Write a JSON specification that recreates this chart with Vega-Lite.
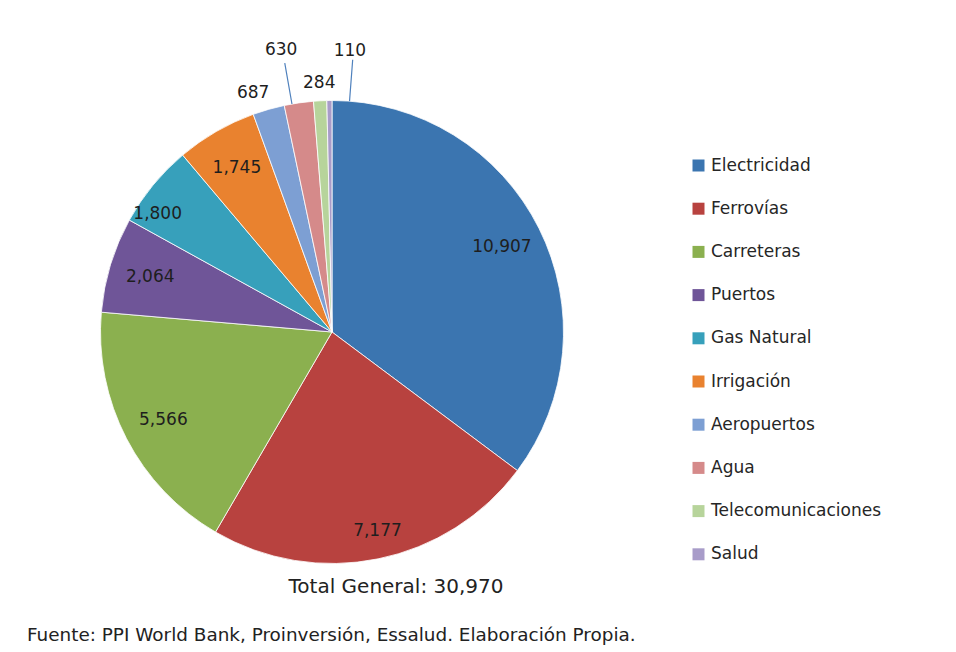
{
  "$schema": "https://vega.github.io/schema/vega-lite/v6.json",
  "autosize": {"type": "pad"},
  "padding": {"left": 24, "top": 38, "right": 10, "bottom": 5},
  "background": "white",
  "config": {"view": {"stroke": null}, "font": "DejaVu Sans"},
  "title": {
    "text": "Fuente: PPI World Bank, Proinversión, Essalud. Elaboración Propia.",
    "orient": "bottom", "anchor": "start", "frame": "group", "dx": -73, "offset": 7,
    "font": "DejaVu Sans", "fontSize": 18.4, "fontWeight": "normal", "color": "#222222"
  },
  "vconcat": [
    {
      "width": 464,
      "height": 464,
      "title": {
        "text": "Total General: 30,970",
        "orient": "bottom", "anchor": "middle", "dx": 64, "offset": -42,
        "font": "DejaVu Sans", "fontSize": 20, "fontWeight": "normal", "color": "#222222"
      },
      "data": {
        "values": [
          {"sector": "Electricidad", "valor": 10907},
          {"sector": "Ferrovías", "valor": 7177},
          {"sector": "Carreteras", "valor": 5566},
          {"sector": "Puertos", "valor": 2064},
          {"sector": "Gas Natural", "valor": 1800},
          {"sector": "Irrigación", "valor": 1745},
          {"sector": "Aeropuertos", "valor": 687},
          {"sector": "Agua", "valor": 630},
          {"sector": "Telecomunicaciones", "valor": 284},
          {"sector": "Salud", "valor": 110}
        ]
      },
      "layer": [
        {
          "mark": {"type": "arc", "outerRadius": 231.5, "stroke": "white", "strokeWidth": 0.8},
          "encoding": {
            "theta": {"field": "valor", "type": "quantitative", "stack": true},
            "order": {"field": "valor", "type": "quantitative", "sort": "descending"},
            "color": {
              "field": "sector", "type": "nominal",
              "scale": {
                "domain": ["Electricidad", "Ferrovías", "Carreteras", "Puertos", "Gas Natural", "Irrigación", "Aeropuertos", "Agua", "Telecomunicaciones", "Salud"],
                "range": ["#3b75b0", "#b8423f", "#8bb04f", "#6f5598", "#37a0bb", "#e9822f", "#7d9fd3", "#d58a8a", "#b7d49b", "#a89cc9"]
              },
              "legend": {
                "title": null, "orient": "none", "legendX": 590, "legendY": 57,
                "symbolType": "square", "symbolSize": 144, "symbolStrokeWidth": 0,
                "labelFont": "DejaVu Sans", "labelFontSize": 17, "labelColor": "#262626",
                "labelOffset": 4, "rowPadding": 25.2, "padding": 0, "labelLimit": 300
              }
            }
          }
        },
        {
          "mark": {"type": "arc", "outerRadius": 273, "innerRadius": 231.5, "padAngle": 1, "thetaOffset": -0.03, "theta2Offset": -0.03, "fill": "transparent", "strokeWidth": 1.2},
          "encoding": {
            "theta": {"field": "valor", "type": "quantitative", "stack": true},
            "order": {"field": "valor", "type": "quantitative", "sort": "descending"},
            "detail": {"field": "sector", "type": "nominal"},
            "stroke": {"condition": {"test": "datum.sector === 'Agua'", "value": "#4f81bd"}, "value": "transparent"}
          }
        },
        {
          "mark": {"type": "arc", "outerRadius": 273, "innerRadius": 231.5, "padAngle": 1, "thetaOffset": 0.087, "theta2Offset": 0.087, "fill": "transparent", "strokeWidth": 1.2},
          "encoding": {
            "theta": {"field": "valor", "type": "quantitative", "stack": true},
            "order": {"field": "valor", "type": "quantitative", "sort": "descending"},
            "detail": {"field": "sector", "type": "nominal"},
            "stroke": {"condition": {"test": "datum.sector === 'Salud'", "value": "#4f81bd"}, "value": "transparent"}
          }
        },
        {
          "mark": {"type": "text", "radius": 190, "font": "DejaVu Sans", "fontSize": 17, "color": "#1e1e1e"},
          "encoding": {
            "theta": {"field": "valor", "type": "quantitative", "stack": true},
            "order": {"field": "valor", "type": "quantitative", "sort": "descending"},
            "detail": {"field": "sector", "type": "nominal"},
            "text": {"field": "valor", "type": "quantitative", "format": ",d"},
            "opacity": {"condition": {"test": "datum.valor >= 1745 && datum.sector !== 'Gas Natural' && datum.sector !== 'Ferrovías'", "value": 1}, "value": 0}
          }
        },
        {
          "mark": {"type": "text", "radius": 203, "dx": 5, "font": "DejaVu Sans", "fontSize": 17, "color": "#1e1e1e"},
          "encoding": {
            "theta": {"field": "valor", "type": "quantitative", "stack": true},
            "order": {"field": "valor", "type": "quantitative", "sort": "descending"},
            "detail": {"field": "sector", "type": "nominal"},
            "text": {"field": "valor", "type": "quantitative", "format": ",d"},
            "opacity": {"condition": {"test": "datum.sector === 'Ferrovías'", "value": 1}, "value": 0}
          }
        },
        {
          "mark": {"type": "text", "radius": 210, "dx": -12, "dy": 15, "font": "DejaVu Sans", "fontSize": 17, "color": "#1e1e1e"},
          "encoding": {
            "theta": {"field": "valor", "type": "quantitative", "stack": true},
            "order": {"field": "valor", "type": "quantitative", "sort": "descending"},
            "detail": {"field": "sector", "type": "nominal"},
            "text": {"field": "valor", "type": "quantitative", "format": ",d"},
            "opacity": {"condition": {"test": "datum.sector === 'Gas Natural'", "value": 1}, "value": 0}
          }
        },
        {
          "mark": {"type": "text", "radius": 251.5, "dx": -10, "dy": 3, "font": "DejaVu Sans", "fontSize": 17, "color": "#1e1e1e"},
          "encoding": {
            "theta": {"field": "valor", "type": "quantitative", "stack": true},
            "order": {"field": "valor", "type": "quantitative", "sort": "descending"},
            "detail": {"field": "sector", "type": "nominal"},
            "text": {"field": "valor", "type": "quantitative", "format": ",d"},
            "opacity": {"condition": {"test": "datum.sector === 'Aeropuertos'", "value": 1}, "value": 0}
          }
        },
        {
          "mark": {"type": "text", "radius": 249, "font": "DejaVu Sans", "fontSize": 17, "color": "#1e1e1e"},
          "encoding": {
            "theta": {"field": "valor", "type": "quantitative", "stack": true},
            "order": {"field": "valor", "type": "quantitative", "sort": "descending"},
            "detail": {"field": "sector", "type": "nominal"},
            "text": {"field": "valor", "type": "quantitative", "format": ",d"},
            "opacity": {"condition": {"test": "datum.sector === 'Telecomunicaciones'", "value": 1}, "value": 0}
          }
        },
        {
          "mark": {"type": "text", "radius": 285, "dx": -10, "font": "DejaVu Sans", "fontSize": 17, "color": "#1e1e1e"},
          "encoding": {
            "theta": {"field": "valor", "type": "quantitative", "stack": true},
            "order": {"field": "valor", "type": "quantitative", "sort": "descending"},
            "detail": {"field": "sector", "type": "nominal"},
            "text": {"field": "valor", "type": "quantitative", "format": ",d"},
            "opacity": {"condition": {"test": "datum.sector === 'Agua'", "value": 1}, "value": 0}
          }
        },
        {
          "mark": {"type": "text", "radius": 281, "dx": 21, "font": "DejaVu Sans", "fontSize": 17, "color": "#1e1e1e"},
          "encoding": {
            "theta": {"field": "valor", "type": "quantitative", "stack": true},
            "order": {"field": "valor", "type": "quantitative", "sort": "descending"},
            "detail": {"field": "sector", "type": "nominal"},
            "text": {"field": "valor", "type": "quantitative", "format": ",d"},
            "opacity": {"condition": {"test": "datum.sector === 'Salud'", "value": 1}, "value": 0}
          }
        }
      ]
    }
  ]
}
